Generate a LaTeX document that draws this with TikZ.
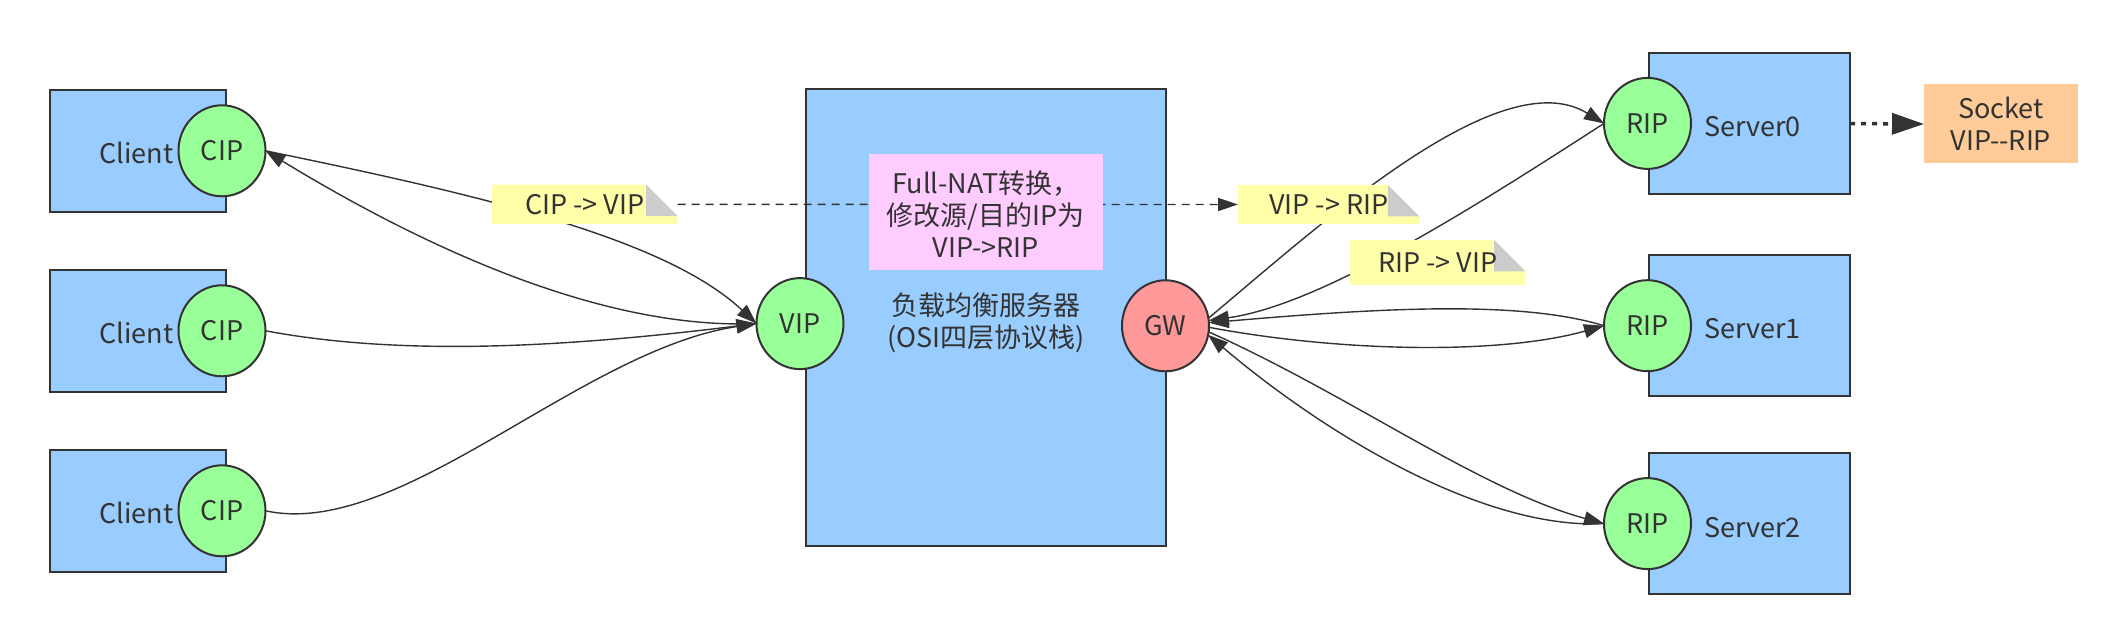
\documentclass[tikz,border=0pt]{standalone}
\usepackage{fontspec}
\setmainfont{Noto Sans CJK SC}[Ligatures=TeXOff]
\usetikzlibrary{arrows.meta,shapes.geometric}
\definecolor{ink}{HTML}{333333}
\definecolor{boxblue}{HTML}{99CCFF}
\definecolor{ipgreen}{HTML}{99FF99}
\definecolor{gwred}{HTML}{FF9999}
\definecolor{notepink}{HTML}{FFCCFF}
\definecolor{noteyellow}{HTML}{FFFFAA}
\definecolor{foldgray}{HTML}{CCCCCC}
\definecolor{sockorange}{HTML}{FFCC99}
\begin{document}
\begin{tikzpicture}[x=1pt,y=-1pt,
  every node/.style={inner sep=0pt, outer sep=0pt, text=ink, font=\fontsize{27}{32}\selectfont},
  hostbox/.style={draw=ink, line width=2pt, fill=boxblue, minimum width=176.6pt, minimum height=122.3pt},
  srvbox/.style={draw=ink, line width=2pt, fill=boxblue, minimum width=200.6pt, minimum height=140.4pt},
  ipnode/.style={ellipse, draw=ink, line width=2pt, fill=ipgreen, minimum width=87pt, minimum height=91pt},
  gwnode/.style={ellipse, draw=ink, line width=2pt, fill=gwred, minimum width=87pt, minimum height=91pt},
  conn/.style={draw=ink, line width=1.4pt, -{Triangle[length=20pt,width=14pt]}},
  noteshape/.style={path picture={
     \fill[noteyellow] (path picture bounding box.south west) -- (path picture bounding box.north west)
        -- ([xshift=-31.5pt]path picture bounding box.north east)
        -- ([yshift=-31.5pt]path picture bounding box.north east)
        -- (path picture bounding box.south east) -- cycle;
     \fill[foldgray] ([xshift=-31.5pt]path picture bounding box.north east)
        -- ([yshift=-31.5pt]path picture bounding box.north east)
        -- ([xshift=-31.5pt,yshift=-31.5pt]path picture bounding box.north east) -- cycle;}},
]
\useasboundingbox (0,0) rectangle (2128,644);
\fill[white] (0,0) rectangle (2128,644);

% hosts
\node[hostbox] (cbox1) at (138,150.85) {};
\node[hostbox] (cbox2) at (138,330.85) {};
\node[hostbox] (cbox3) at (138,510.85) {};
\node[anchor=base east] (ctext1) at (173.5,163.3) {Client};
\node[anchor=base east] (ctext2) at (173.5,343.3) {Client};
\node[anchor=base east] (ctext3) at (173.5,523.3) {Client};
\node[ipnode] (cip1) at (222,150.8) {CIP};
\node[ipnode] (cip2) at (222,330.8) {CIP};
\node[ipnode] (cip3) at (222,510.8) {CIP};

\node[srvbox] (srv0) at (1749.7,123.6) {};
\node[srvbox] (srv1) at (1749.7,325.65) {};
\node[srvbox] (srv2) at (1749.7,523.6) {};
\node[anchor=base west] (stext0) at (1704,136.5) {Server0};
\node[anchor=base west] (stext1) at (1704,338.5) {Server1};
\node[anchor=base west] (stext2) at (1704,537) {Server2};
\node[ipnode] (rip0) at (1647.5,123.4) {RIP};
\node[ipnode] (rip1) at (1647.5,325.7) {RIP};
\node[ipnode] (rip2) at (1647.5,523.6) {RIP};

\node[fill=sockorange, minimum width=153.5pt, minimum height=79pt, align=center] (sock) at (2000.75,124) {Socket\\VIP--RIP};

% load balancer
\node[draw=ink, line width=2pt, fill=boxblue, minimum width=360.4pt, minimum height=456.3pt] (lb) at (985.8,317.65) {};
\node[align=center] (lbtext) at (985.75,323) {负载均衡服务器\\(OSI四层协议栈)};
\node[ipnode] (vip) at (800,323.6) {VIP};
\node[gwnode] (gw) at (1165.5,325.8) {GW};

% connectors left
\draw[conn] (cip1.east) .. controls (480,195) and (665,238) .. (vip.west);
\draw[conn] (vip.west) .. controls (600,330) and (420,245) .. (cip1.east);
\draw[conn] (cip2.east) .. controls (400,356) and (560,348) .. (vip.west);
\draw[conn] (cip3.east) .. controls (400,540) and (580,350) .. (vip.west);

% connectors right
\draw[conn] (gw.10) .. controls (1320,225) and (1500,60) .. (rip0.west);
\draw[conn] (rip0.west) .. controls (1470,210) and (1320,305) .. (gw.7);
\draw[conn] (rip1.west) .. controls (1520,300) and (1380,308) .. (gw.4);
\draw[conn] (gw.-2) .. controls (1340,352) and (1500,355) .. (rip1.west);
\draw[conn] (gw.-8) .. controls (1350,395) and (1480,490) .. (rip2.west);
\draw[conn] (rip2.west) .. controls (1480,530) and (1320,430) .. (gw.-12);

% notes
\node[noteshape, minimum width=185.7pt, minimum height=39.3pt] (n1) at (584.85,204.35) {CIP -> VIP};
\node[noteshape, minimum width=181.3pt, minimum height=39pt] (n2) at (1328.65,204.5) {VIP -> RIP};
\node[noteshape, minimum width=175.7pt, minimum height=45pt] (n3) at (1437.85,262.5) {RIP -> VIP};

\draw[draw=ink, line width=1.4pt, dash pattern=on 8pt off 6pt, -{Triangle[length=20pt,width=13pt]}] (n1.east) -- (n2.west);

\node[fill=notepink, minimum width=234.5pt, minimum height=115.8pt] (nat) at (985.75,211.9) {};
\node[align=center] (nattext) at (985.75,214) {Full-NAT转换，\\修改源/目的IP为\\VIP->RIP};

\draw[draw=ink, line width=3.5pt, dash pattern=on 5pt off 6pt, -{Triangle[length=32pt,width=21pt]}] (srv0.east) -- (sock.west);
\end{tikzpicture}
\end{document}
